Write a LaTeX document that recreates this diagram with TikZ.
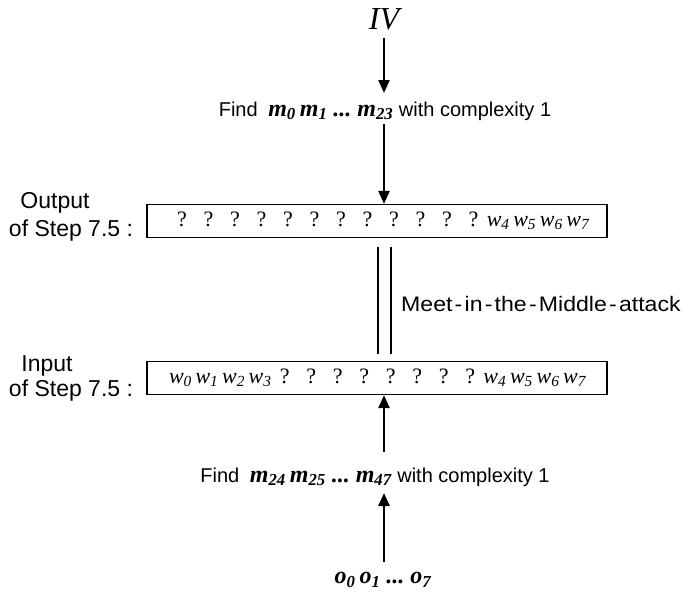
\documentclass[tikz,border=0pt]{standalone}
\usepackage{fontspec}
\setmainfont{Liberation Serif}
\newfontfamily\sansf{Liberation Sans}
\usetikzlibrary{arrows.meta}
\newcommand\sbx[1]{\textsubscript{\itshape #1}}
\newcommand\qm{\makebox[26.5pt]{?}}
\newcommand\hyph{\kern2pt-\kern2pt}
\newcommand\mvar{\rmfamily\fontsize{24}{28}\selectfont\bfseries\itshape}
\tikzset{
  sanslbl/.style={font=\sansf\fontsize{20}{23}\selectfont, inner sep=0pt},
  sidelbl/.style={font=\sansf\fontsize{23}{26}\selectfont, inner sep=0pt},
  arr/.style={line width=2.4pt, -{Triangle[width=11pt,length=13pt]}},
  wordbox/.style={draw, line width=1.2pt, minimum width=460pt, minimum height=33pt, inner sep=0pt, font=\fontsize{22}{26}\selectfont},
  meetline/.style={line width=1.6pt}
}
\begin{document}
\begin{tikzpicture}[x=1pt,y=-1pt]
\useasboundingbox (0,0) rectangle (689,592);
% top
\node[inner sep=0pt, font=\fontsize{32}{36}\selectfont\itshape] (iv) at (384,19) {IV};
\node[sanslbl] (f1) at (385,111) {Find\hspace{5pt} {\mvar m\sbx{0}\,m\sbx{1}~...~m\sbx{23}} with complexity 1};
\node[wordbox] (ob) at (377,221) {\hspace*{4pt}\qm\qm\qm\qm\qm\qm\qm\qm\qm\qm\qm\qm\itshape w\sbx{4}\,w\sbx{5}\,w\sbx{6}\,w\sbx{7}\hfill};
\node[sidelbl] (outa) at (55,203) {Output};
\node[sidelbl] (outb) at (71,231) {of Step 7.5 :};
% middle
\coordinate (la) at (378,247);
\coordinate (lb) at (378,354);
\coordinate (ra) at (391,247);
\coordinate (rb) at (391,354);
\draw[meetline] (la) -- (lb);
\draw[meetline] (ra) -- (rb);
\node[inner sep=0pt, font=\sansf\fontsize{21}{24}\selectfont, anchor=west] (meet) at (401,304) {\scalebox{1.1}[1]{Meet\hyph in\hyph the\hyph Middle\hyph attack}};
% bottom
\node[wordbox] (ib) at (377,378) {\hspace*{1pt}\itshape w\sbx{0}\,w\sbx{1}\,w\sbx{2}\,w\sbx{3}\upshape\qm\qm\qm\qm\qm\qm\qm\qm\itshape w\sbx{4}\,w\sbx{5}\,w\sbx{6}\,w\sbx{7}\hfill};
\node[sidelbl] (ina) at (47,366) {Input};
\node[sidelbl] (inb) at (71,391) {of Step 7.5 :};
\node[sanslbl] (f2) at (375,477) {Find\hspace{5pt} {\mvar m\sbx{24}\,m\sbx{25}~...~m\sbx{47}} with complexity 1};
\node[inner sep=0pt, font=\mvar] (oo) at (383,580) {o\sbx{0}\,o\sbx{1}~...~o\sbx{7}};
% arrows
\coordinate (a1s) at (384,38);
\coordinate (a1e) at (384,93);
\coordinate (a2s) at (384,124);
\coordinate (a3s) at (384,452);
\coordinate (a4s) at (384,562);
\coordinate (a4e) at (384,493);
\draw[arr] (a1s) -- (a1e);
\draw[arr] (a2s) -- (a2s |- ob.north);
\draw[arr] (a3s) -- (a3s |- ib.south);
\draw[arr] (a4s) -- (a4e);
\end{tikzpicture}
\end{document}
